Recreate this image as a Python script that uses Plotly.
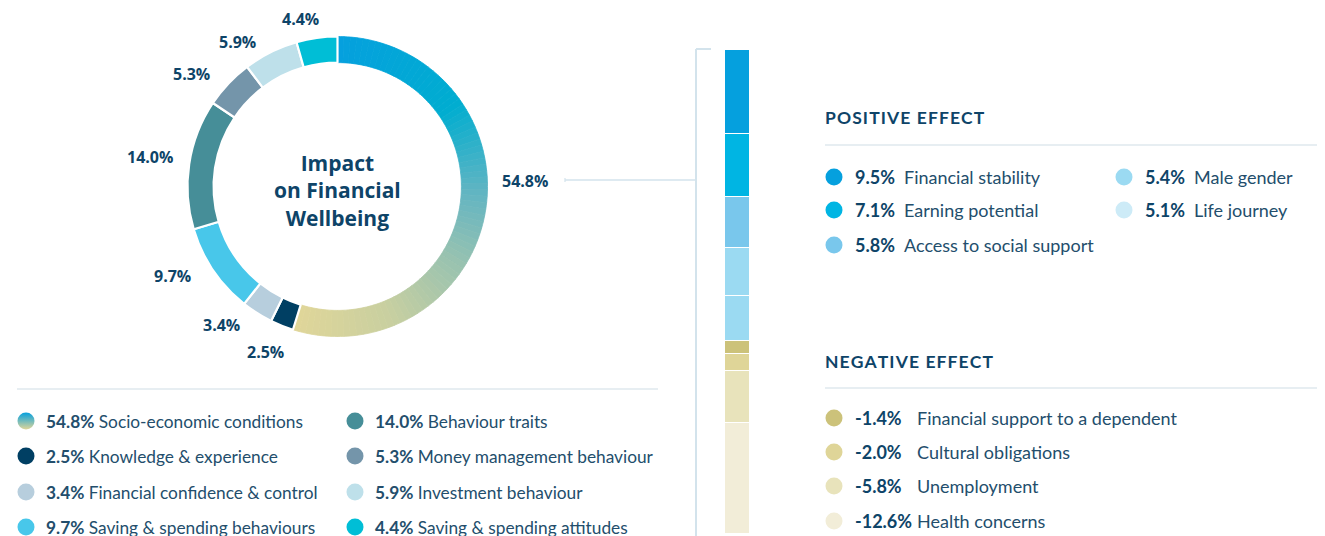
import plotly.graph_objects as go
import numpy as np

# ---------------- data ----------------
donut_values = [54.8, 2.5, 3.4, 9.7, 14.0, 5.3, 5.9, 4.4]
donut_labels = ["Socio-economic conditions", "Knowledge & experience",
                "Financial confidence & control", "Saving & spending behaviours",
                "Behaviour traits", "Money management behaviour",
                "Investment behaviour", "Saving & spending attitudes"]
donut_colors = [None, "#003F63", "#B7CEDD", "#48C7EA", "#468E98", "#7495AA", "#BEE0EA", "#00BED6"]

pos_values = [9.5, 7.1, 5.8, 5.4, 5.1]
pos_labels = ["Financial stability", "Earning potential", "Access to social support",
              "Male gender", "Life journey"]
pos_colors = ["#05A0DE", "#00B5E3", "#79C7EC", "#9BDAF2", "#CDEBF7"]
pos_bar_colors = ["#05A0DE", "#00B5E3", "#79C7EC", "#9BDAF2", "#9BDAF2"]

neg_values = [-1.4, -2.0, -5.8, -12.6]
neg_labels = ["Financial support to a dependent", "Cultural obligations",
              "Unemployment", "Health concerns"]
neg_colors = ["#CCC27A", "#DFD598", "#E8E3BB", "#F2EDD8"]

center_title = "Impact<br>on Financial<br>Wellbeing"
headers = ["POSITIVE EFFECT", "NEGATIVE EFFECT"]

# ---------------- helpers ----------------
W, H = 1325, 536
OFF = 8  # page body margin
NAVY = "#0E4468"
TXT = "#234E6C"
LINE = "#CFDDE6"


def px(x, y):
    return (x - OFF) / W, 1 - (y - OFF) / H


def hex2rgb(h):
    h = h.lstrip("#")
    return np.array([int(h[i:i + 2], 16) for i in (0, 2, 4)], dtype=float)


grad_stops = [(0.0, "#05A0DE"), (0.28, "#00ADD0"), (0.47, "#62B5C2"),
              (0.62, "#98C2B0"), (0.8, "#C8CFA0"), (1.0, "#E0D699")]


def grad_color(t):
    for (t0, c0), (t1, c1) in zip(grad_stops[:-1], grad_stops[1:]):
        if t0 <= t <= t1:
            f = (t - t0) / (t1 - t0)
            c = hex2rgb(c0) * (1 - f) + hex2rgb(c1) * f
            return "rgb(%d,%d,%d)" % tuple(c.round())
    return grad_stops[-1][1]


fig = go.Figure()

# ---------------- donut ----------------
N = 80
vals, cols, lw, lc = [], [], [], []
for k in range(N):
    vals.append(donut_values[0] / N)
    c = grad_color((k + 0.5) / N)
    cols.append(c)
    lw.append(0.8)
    lc.append(c)
for v, c in zip(donut_values[1:], donut_colors[1:]):
    vals.append(v)
    cols.append(c)
    lw.append(2.2)
    lc.append("white")

cx, cy, R = 337.5, 186.5, 150
x0, y0 = px(cx - R, cy + R)
x1, y1 = px(cx + R, cy - R)
fig.add_trace(go.Pie(
    values=vals, sort=False, direction="clockwise", rotation=0,
    hole=0.826, textinfo="none", hoverinfo="skip", showlegend=False,
    marker=dict(colors=cols, line=dict(color=lc, width=lw)),
    domain=dict(x=[x0, x1], y=[y0, y1]),
))

annotations = []


def add_text(x, y, text, size, color, family, xanchor="left", align="left"):
    if xanchor == "left":
        x -= 2
    ax, ay = px(x, y)
    annotations.append(dict(x=ax, y=ay, xref="paper", yref="paper",
                            xanchor=xanchor, yanchor="middle", align=align,
                            text=text, showarrow=False,
                            font=dict(family=family, size=size, color=color)))


add_text(cx, 190, "<b>" + center_title + "</b>", 21, NAVY, "Open Sans", "center", "center")

label_pos = [(525, 181), (265, 352), (221, 325), (172, 276), (150, 157),
             (191, 74), (238, 42), (300, 19)]
for v, (lx, ly) in zip(donut_values, label_pos):
    add_text(lx, ly, "<b>%.1f%%</b>" % v, 16, NAVY, "Open Sans", "center", "center")

# ---------------- stacked bar ----------------
bar_vals = [abs(v) for v in pos_values + neg_values]
bar_cols = pos_bar_colors + neg_colors
for v, c in zip(bar_vals, bar_cols):
    fig.add_trace(go.Bar(x=[0], y=[v], width=1,
                         marker=dict(color=c, line=dict(color="white", width=1.5)),
                         showlegend=False, hoverinfo="skip", xaxis="x", yaxis="y"))

# ---------------- legends ----------------
mk_x, mk_y, mk_c = [], [], []
left_rows = [421, 456, 492, 527]
left_cols_mk = [26, 355]
left_cols_tx = [46, 375]
for i, (v, lab) in enumerate(zip(donut_values, donut_labels)):
    col, row = divmod(i, 4)
    if i > 0:
        mk_x.append(left_cols_mk[col]); mk_y.append(left_rows[row]); mk_c.append(donut_colors[i])
    add_text(left_cols_tx[col], left_rows[row], "<b>%.1f%%</b> %s" % (v, lab), 17.3, TXT, "Lato")

# gradient marker for first legend entry
fig.add_trace(go.Scatter(x=[left_cols_mk[0]], y=[left_rows[0]], mode="markers",
                         marker=dict(size=17, color="#05A0DE",
                                     gradient=dict(type="vertical", color="#E0D699")),
                         xaxis="x2", yaxis="y2", showlegend=False, hoverinfo="skip"))

pos_slots = [(834, 177), (834, 210), (834, 245), (1124, 177), (1124, 210)]
for (mx, my), v, lab, c in zip(pos_slots, pos_values, pos_labels, pos_colors):
    mk_x.append(mx); mk_y.append(my); mk_c.append(c)
    add_text(mx + 21, my, "<b>%.1f%%</b>" % v, 18, NAVY, "Lato")
    add_text(mx + 70, my, lab, 18, TXT, "Lato")

neg_rows = [418, 452, 486, 521]
for my, v, lab, c in zip(neg_rows, neg_values, neg_labels, neg_colors):
    mx = 834
    mk_x.append(mx); mk_y.append(my); mk_c.append(c)
    add_text(mx + 21, my, "<b>%.1f%%</b>" % v, 18, NAVY, "Lato")
    add_text(mx + 83, my, lab, 18, TXT, "Lato")

fig.add_trace(go.Scatter(x=mk_x, y=mk_y, mode="markers",
                         marker=dict(size=17, color=mk_c, line=dict(width=0)),
                         xaxis="x2", yaxis="y2", showlegend=False, hoverinfo="skip"))

HAIR = "\u200a"
for ttl, hy in zip(headers, [118, 361]):
    spaced = HAIR.join(list(ttl))
    add_text(825, hy, "<b>%s</b>" % spaced, 17.5, NAVY, "Lato")

# ---------------- lines ----------------
shapes = []


def seg(xa, ya, xb, yb, color=LINE, w=1.2):
    shapes.append(dict(type="line", xref="x2", yref="y2", x0=xa, x1=xb, y0=ya, y1=yb,
                       line=dict(color=color, width=w)))


seg(17, 389, 658, 389)
seg(825, 145, 1345, 145)
seg(825, 388, 1345, 388)
seg(696, 49, 696, 545, color="#D3E3EC", w=2)
seg(696, 49, 711, 49, color="#D3E3EC", w=2)
seg(565, 180, 696, 180, color="#D3E3EC", w=1.5)
seg(565, 178, 565, 182, color="#D3E3EC", w=1.2)

bx0, _ = px(725, 0)
bx1, _ = px(750, 0)
_, by1 = px(0, 50)
_, by0 = px(0, H + OFF)
px_per_unit = 8.85
y_span = ((H + OFF) - 50) / px_per_unit

fig.update_layout(
    width=W, height=H, margin=dict(l=0, r=0, t=0, b=0),
    paper_bgcolor="white", plot_bgcolor="rgba(0,0,0,0)",
    barmode="stack", bargap=0,
    xaxis=dict(domain=[bx0, bx1], range=[-0.5, 0.5], visible=False, fixedrange=True),
    yaxis=dict(domain=[by0, by1], range=[y_span, 0], visible=False, fixedrange=True),
    xaxis2=dict(domain=[0, 1], range=[OFF, W + OFF], visible=False, anchor="y2"),
    yaxis2=dict(domain=[0, 1], range=[H + OFF, OFF], visible=False, anchor="x2"),
    annotations=annotations, shapes=shapes, showlegend=False,
)

fig.write_html("out.html")
